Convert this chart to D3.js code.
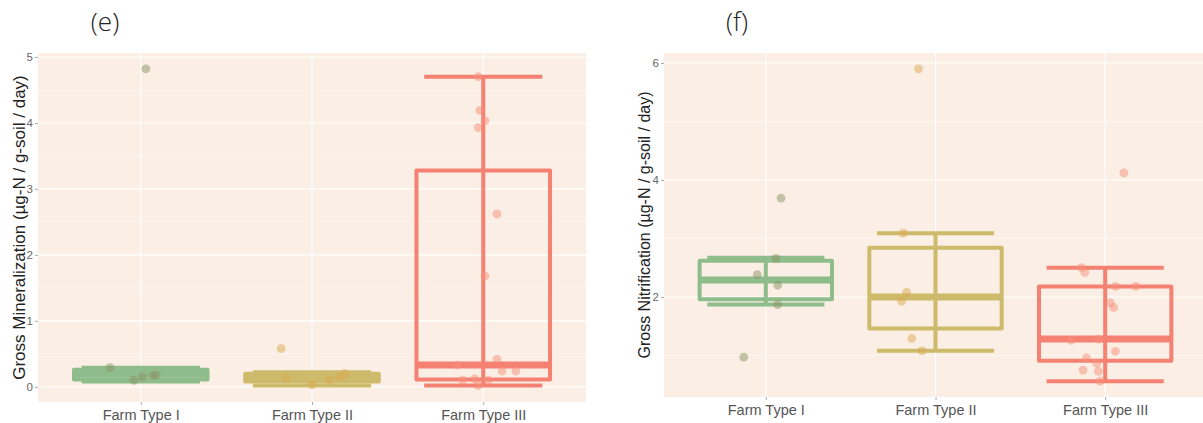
<!DOCTYPE html>
<html><head><meta charset="utf-8">
<script src="https://cdn.jsdelivr.net/npm/d3@7"></script>
<style>body{margin:0;background:#fff}svg{display:block}</style>
</head><body>
<script>
const categories = ["Farm Type I", "Farm Type II", "Farm Type III"];
const boxColors = ["#8fbc8b", "#cdbb6b", "#f58172"];
const pointColors = ["#8c9466", "#d9a850", "#f58f7a"];

// box stats: [lower whisker, q1, median, q3, upper whisker]
const minBoxes = [[0.08,0.11,0.19,0.26,0.29],[0.02,0.08,0.14,0.20,0.22],[0.02,0.11,0.33,3.28,4.70]];
const nitBoxes = [[1.87,1.96,2.29,2.62,2.67],[1.08,1.46,2.00,2.84,3.09],[0.56,0.91,1.28,2.18,2.50]];

// observations per farm type: values and jitter offsets (in category units)
const minValues = [[4.82,0.29,0.10,0.15,0.17,0.18],[0.58,0.13,0.03,0.10,0.15,0.20],
  [4.70,4.19,4.03,3.93,2.62,1.68,0.42,0.33,0.24,0.24,0.10,0.12,0.10,0.02]];
const minJitter = [[0.03,-0.18,-0.04,0.01,0.07,0.09],[-0.18,-0.15,0,0.10,0.16,0.19],
  [-0.03,-0.02,0.01,-0.03,0.08,0.01,0.08,-0.15,0.11,0.19,-0.12,-0.05,0.03,-0.03]];
const nitValues = [[3.69,2.66,2.38,2.20,1.87,0.97],[5.90,3.09,2.08,1.93,1.29,1.08],
  [4.12,2.50,2.42,2.18,2.18,1.90,1.82,1.26,1.28,1.07,0.96,0.87,0.75,0.73,0.56]];
const nitJitter = [[0.09,0.06,-0.05,0.07,0.07,-0.13],[-0.10,-0.19,-0.17,-0.20,-0.14,-0.08],
  [0.11,-0.14,-0.12,0.06,0.18,0.03,0.05,-0.20,-0.04,0.06,-0.11,-0.05,-0.13,-0.04,-0.03]];

const minTicks = [0,1,2,3,4,5];
const minMinor = [0.5,1.5,2.5,3.5,4.5];
const nitTicks = [2,4,6];
const nitMinor = [1,3,5];

const svg = d3.select("body").append("svg").attr("width",1203).attr("height",423);

function panel(o){
  const g = svg.append("g");
  const x = d3.scalePoint().domain(categories).range([o.x0,o.x1]).padding(0.6);
  const y = d3.scaleLinear().domain(o.ydom).range([o.y1,o.y0]);
  const step = x.step();
  const clipId = "clip"+o.id;
  g.append("clipPath").attr("id",clipId).append("rect")
    .attr("x",o.x0).attr("y",o.y0).attr("width",o.x1-o.x0).attr("height",o.y1-o.y0);
  g.append("rect").attr("x",o.x0).attr("y",o.y0).attr("width",o.x1-o.x0).attr("height",o.y1-o.y0)
    .attr("fill","#faeee5");
  const grid = g.append("g");
  grid.selectAll(".mn").data(o.minor).join("line")
    .attr("x1",o.x0).attr("x2",o.x1).attr("y1",d=>y(d)).attr("y2",d=>y(d))
    .attr("stroke","#fff").attr("stroke-width",0.6).attr("opacity",0.8);
  grid.selectAll(".mj").data(o.ticks).join("line")
    .attr("x1",o.x0).attr("x2",o.x1).attr("y1",d=>y(d)).attr("y2",d=>y(d))
    .attr("stroke","#fff").attr("stroke-width",1.1);
  grid.selectAll(".vx").data(categories).join("line")
    .attr("x1",d=>x(d)).attr("x2",d=>x(d)).attr("y1",o.y0).attr("y2",o.y1)
    .attr("stroke","#fff").attr("stroke-width",1.1);

  const plot = g.append("g").attr("clip-path",`url(#${clipId})`);
  categories.forEach((c,i)=>{
    const b = o.boxes[i], col = boxColors[i], cx = x(c);
    const bw = 0.78*step, cw = 0.69*step;
    const bg = plot.append("g").attr("stroke",col).attr("fill","none");
    // errorbar: vertical + caps
    bg.append("line").attr("x1",cx).attr("x2",cx).attr("y1",y(b[0])).attr("y2",y(b[4])).attr("stroke-width",4);
    [b[0],b[4]].forEach(v=>bg.append("line").attr("x1",cx-cw/2).attr("x2",cx+cw/2)
      .attr("y1",y(v)).attr("y2",y(v)).attr("stroke-width",4));
    bg.append("rect").attr("x",cx-bw/2).attr("width",bw).attr("y",y(b[3])).attr("height",y(b[1])-y(b[3]))
      .attr("stroke-width",4).attr("stroke-linejoin","round");
    bg.append("line").attr("x1",cx-bw/2).attr("x2",cx+bw/2).attr("y1",y(b[2])).attr("y2",y(b[2])).attr("stroke-width",7);
    const pts = o.values[i].map((v,k)=>({v, j:o.jitter[i][k]}));
    plot.append("g").selectAll("circle").data(pts).join("circle")
      .attr("cx",d=>cx+d.j*step).attr("cy",d=>y(d.v)).attr("r",4.4)
      .attr("fill",pointColors[i]).attr("fill-opacity",0.5);
  });

  // axes
  const ya = g.append("g").attr("transform",`translate(${o.x0},0)`)
    .call(d3.axisLeft(y).tickValues(o.ticks).tickSize(3).tickPadding(2).tickFormat(d3.format("d")));
  ya.select(".domain").remove();
  ya.selectAll("line").attr("stroke","#aaa");
  ya.selectAll("text").attr("fill","#666").style("font-family","Liberation Sans, Arial, sans-serif").style("font-size","11.5px");
  const xa = g.append("g").attr("transform",`translate(0,${o.y1})`)
    .call(d3.axisBottom(x).tickSize(3).tickPadding(5));
  xa.select(".domain").remove();
  xa.selectAll("line").attr("stroke","#aaa");
  xa.selectAll("text").attr("fill","#555").style("font-family","Liberation Sans, Arial, sans-serif").style("font-size","14.5px");

  g.append("text").attr("transform",`translate(${o.titleX},${(o.y0+o.y1)/2}) rotate(-90)`)
    .attr("text-anchor","middle").attr("fill","#222")
    .style("font-family","Liberation Sans, Arial, sans-serif").style("font-size",o.titleSize+"px")
    .text(o.title);
  svg.append("text").attr("x",o.labX).attr("y",31).attr("text-anchor","middle").attr("fill","#222")
    .style("font-family","Open Sans, sans-serif").style("font-weight","300").style("font-size","26px")
    .text(o.label);
}

panel({id:"e", x0:38, x1:586, y0:53, y1:402, ydom:[-0.23,5.06], ticks:minTicks, minor:minMinor,
  boxes:minBoxes, values:minValues, jitter:minJitter, titleX:25, titleSize:17,
  title:"Gross Mineralization (µg-N / g-soil / day)", label:"(e)", labX:105});
panel({id:"f", x0:664, x1:1207, y0:53, y1:397, ydom:[0.29,6.17], ticks:nitTicks, minor:nitMinor,
  boxes:nitBoxes, values:nitValues, jitter:nitJitter, titleX:650, titleSize:16,
  title:"Gross Nitrification (µg-N / g-soil / day)", label:"(f)", labX:737});
</script>
</body></html>
